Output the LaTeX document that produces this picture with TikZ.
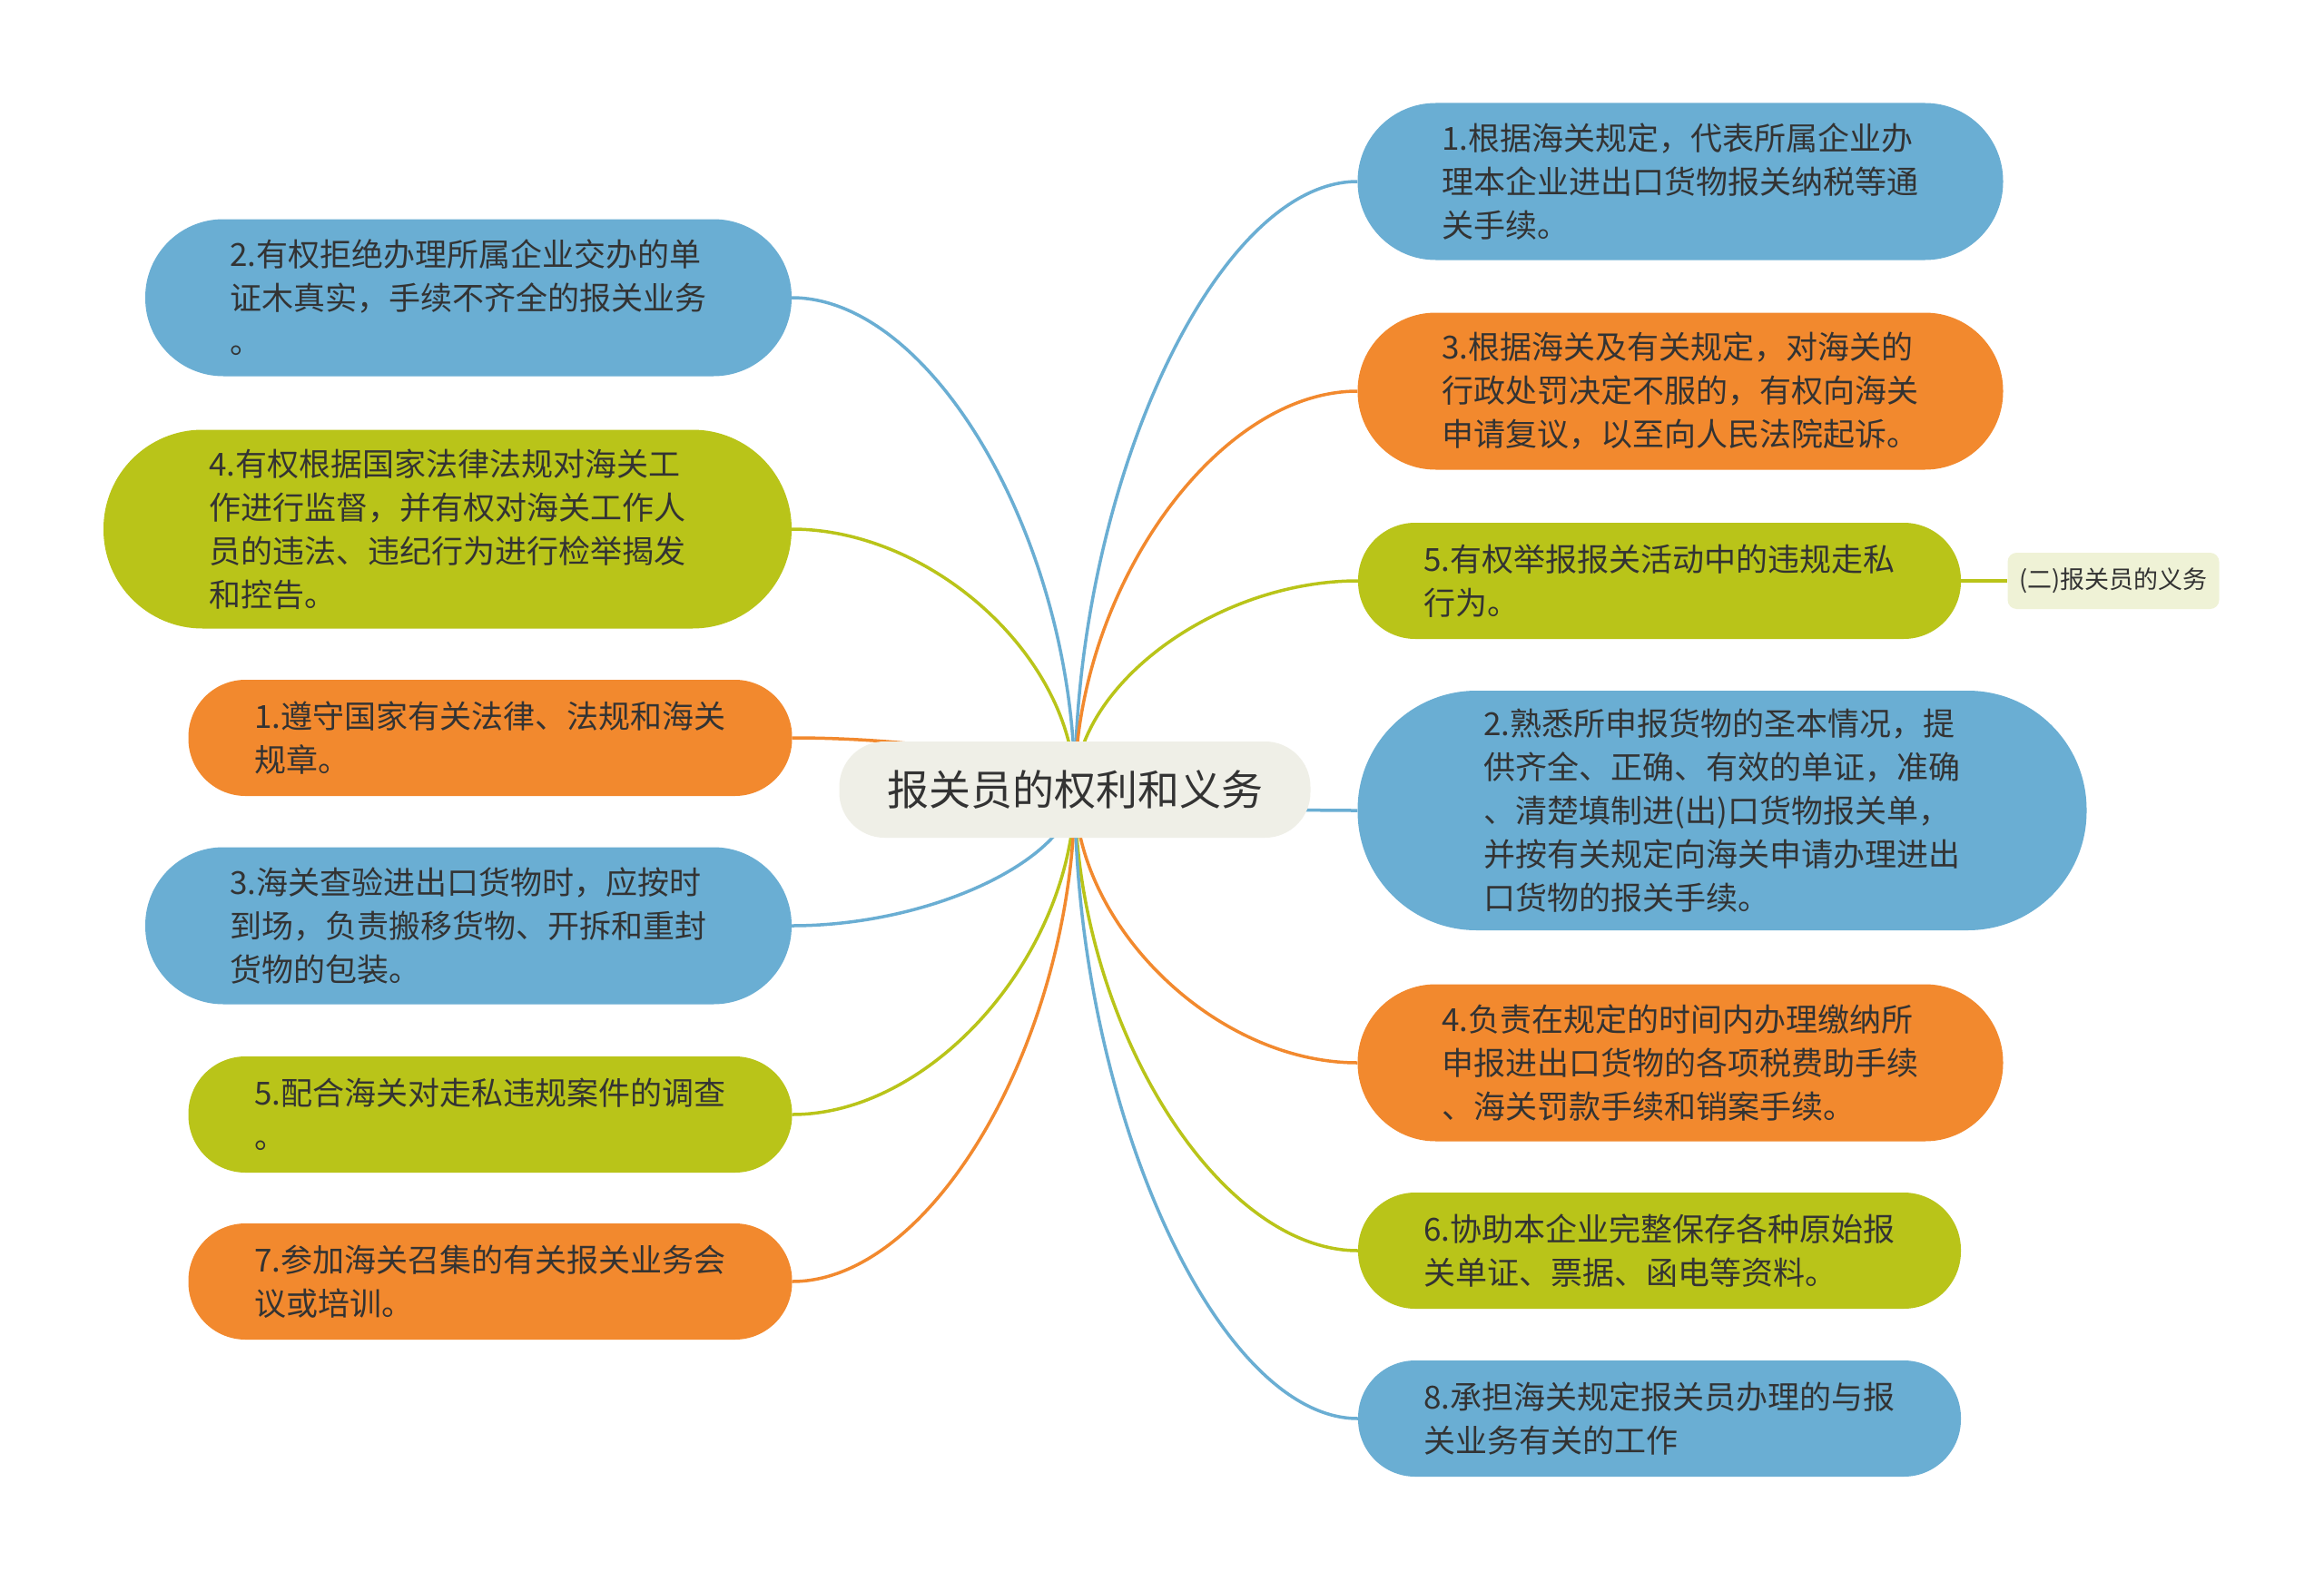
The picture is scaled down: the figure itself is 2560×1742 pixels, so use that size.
\documentclass[tikz,border=0pt]{standalone}
\usepackage{fontspec}
\newfontfamily\cjk{Noto Sans CJK SC}
\usetikzlibrary{calc}
\definecolor{blueC}{RGB}{106,174,211}
\definecolor{orangeC}{RGB}{242,137,46}
\definecolor{greenC}{RGB}{185,196,25}
\definecolor{rootC}{RGB}{239,239,231}
\definecolor{sideC}{RGB}{239,242,214}
\definecolor{txtC}{RGB}{51,51,51}
\pgfdeclarelayer{bg}
\pgfsetlayers{bg,main}
\tikzset{
  leaf/.style={rectangle, text=txtC, font=\cjk\fontsize{35}{48}\selectfont, align=left, inner sep=0pt},
  conn/.style={line width=3.5pt},
}
\newcommand\linkL[2]{\draw[conn,#2] (C.center) .. controls ($(C.center)!0.5!(C.center |- #1.east)$) and ($(#1.east)!0.5!(C.center |- #1.east)$) .. (#1.east);}
\newcommand\linkR[2]{\draw[conn,#2] (C.center) .. controls ($(C.center)!0.5!(C.center |- #1.west)$) and ($(#1.west)!0.5!(C.center |- #1.west)$) .. (#1.west);}
\begin{document}
\begin{tikzpicture}[x=1pt,y=-1pt]
\begin{pgfonlayer}{bg}
\fill[white] (0,0) rectangle (2560,1742);
\end{pgfonlayer}
\useasboundingbox (0,0) rectangle (2560,1742);

% root
\node[leaf, fill=rootC, minimum width=519pt, minimum height=106pt, rounded corners=50pt, font=\cjk\fontsize{46}{56}\selectfont] (C) at (1184,870) {报关员的权利和义务};

% left side
\node[leaf, fill=blueC, minimum width=712pt, minimum height=173pt, rounded corners=86pt] (L1) at (516,328)
 {2.有权拒绝办理所属企业交办的单\\证木真实，手续不齐全的报关业务\\。};
\node[leaf, fill=greenC, minimum width=758pt, minimum height=219pt, rounded corners=109pt] (L2) at (493,583)
 {4.有权根据国家法律法规对海关工\\作进行监督，并有权对海关工作人\\员的违法、违纪行为进行检举揭发\\和控告。};
\node[leaf, fill=orangeC, minimum width=665pt, minimum height=128pt, rounded corners=63pt] (L3) at (540,813)
 {1.遵守国家有关法律、法规和海关\\规章。};
\node[leaf, fill=blueC, minimum width=712pt, minimum height=173pt, rounded corners=86pt] (L4) at (516,1020)
 {3.海关查验进出口货物时，应按时\\到场，负责搬移货物、开拆和重封\\货物的包装。};
\node[leaf, fill=greenC, minimum width=665pt, minimum height=128pt, rounded corners=63pt] (L5) at (540,1228)
 {5.配合海关对走私违规案件的调查\\。};
\node[leaf, fill=orangeC, minimum width=665pt, minimum height=128pt, rounded corners=63pt] (L6) at (540,1412)
 {7.参加海关召集的有关报关业务会\\议或培训。};

% right side
\node[leaf, fill=blueC, minimum width=711pt, minimum height=173pt, rounded corners=86pt] (R1) at (1851,200)
 {1.根据海关规定，代表所属企业办\\理本企业进出口货物报关纳税等通\\关手续。};
\node[leaf, fill=orangeC, minimum width=711pt, minimum height=173pt, rounded corners=86pt] (R2) at (1851,431)
 {3.根据海关及有关规定，对海关的\\行政处罚决定不服的，有权向海关\\申请复议，以至向人民法院起诉。};
\node[leaf, fill=greenC, minimum width=664pt, minimum height=128pt, rounded corners=63pt] (R3) at (1828,640)
 {5.有权举报报关活动中的违规走私\\行为。};
\node[leaf, fill=blueC, minimum width=803pt, minimum height=264pt, rounded corners=131pt] (R4) at (1897,893)
 {2.熟悉所申报货物的圣本情况，提\\供齐全、正确、有效的单证，准确\\、清楚填制进(出)口货物报关单，\\并按有关规定向海关申请办理进出\\口货物的报关手续。};
\node[leaf, fill=orangeC, minimum width=711pt, minimum height=173pt, rounded corners=86pt] (R5) at (1851,1171)
 {4.负责在规定的时间内办理缴纳所\\申报进出口货物的各项税费助手续\\、海关罚款手续和销案手续。};
\node[leaf, fill=greenC, minimum width=664pt, minimum height=128pt, rounded corners=63pt] (R6) at (1828,1378)
 {6.协助本企业完整保存各种原始报\\关单证、票据、函电等资料。};
\node[leaf, fill=blueC, minimum width=664pt, minimum height=128pt, rounded corners=63pt] (R7) at (1828,1563)
 {8.承担海关规定报关员办理的与报\\关业务有关的工作};

% side node
\node[leaf, fill=sideC, minimum width=233pt, minimum height=62pt, rounded corners=10pt, font=\cjk\fontsize{27}{32}\selectfont] (S) at (2328,640) {(二)报关员的义务};

\begin{pgfonlayer}{bg}
\linkL{L1}{blueC}
\linkL{L2}{greenC}
\linkL{L3}{orangeC}
\linkL{L4}{blueC}
\linkL{L5}{greenC}
\linkL{L6}{orangeC}
\linkR{R1}{blueC}
\linkR{R2}{orangeC}
\linkR{R3}{greenC}
\linkR{R4}{blueC}
\linkR{R5}{orangeC}
\linkR{R6}{greenC}
\linkR{R7}{blueC}
\draw[conn,greenC] (R3.east) -- (S.west);
\end{pgfonlayer}
\end{tikzpicture}
\end{document}
